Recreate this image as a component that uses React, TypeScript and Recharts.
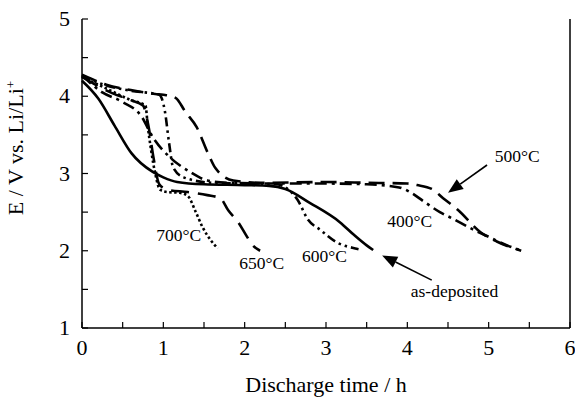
import React from 'react'
import {
  LineChart,
  Line,
  XAxis,
  YAxis,
  ReferenceLine,
  ReferenceDot,
} from 'recharts'

const xTicks = [0, 0.5, 1, 1.5, 2, 2.5, 3, 3.5, 4, 4.5, 5, 5.5, 6]
const yTicks = [1, 1.5, 2, 2.5, 3, 3.5, 4, 4.5, 5]

// discharge curves, t in h, e in V
const asDeposited = [
  { t: 0, e: 4.2 }, { t: 0.2, e: 3.97 }, { t: 0.4, e: 3.62 }, { t: 0.61, e: 3.26 },
  { t: 0.87, e: 3.02 }, { t: 1.0, e: 2.95 }, { t: 1.17, e: 2.89 }, { t: 1.5, e: 2.86 },
  { t: 2.0, e: 2.85 }, { t: 2.3, e: 2.84 }, { t: 2.5, e: 2.8 }, { t: 2.8, e: 2.62 },
  { t: 3.17, e: 2.37 }, { t: 3.35, e: 2.2 }, { t: 3.5, e: 2.07 }, { t: 3.58, e: 2.01 },
]
const c400 = [
  { t: 0, e: 4.27 }, { t: 0.25, e: 4.05 }, { t: 0.49, e: 3.93 }, { t: 0.73, e: 3.74 },
  { t: 0.87, e: 3.47 }, { t: 1.08, e: 3.21 }, { t: 1.33, e: 3.02 }, { t: 1.54, e: 2.91 },
  { t: 1.8, e: 2.88 }, { t: 2.5, e: 2.87 }, { t: 3.0, e: 2.87 }, { t: 3.5, e: 2.86 },
  { t: 3.9, e: 2.82 }, { t: 4.05, e: 2.75 }, { t: 4.2, e: 2.64 }, { t: 4.4, e: 2.5 },
  { t: 4.55, e: 2.42 }, { t: 4.8, e: 2.28 }, { t: 5.0, e: 2.18 }, { t: 5.2, e: 2.08 },
  { t: 5.41, e: 2.0 },
]
const c500 = [
  { t: 0, e: 4.28 }, { t: 0.3, e: 4.15 }, { t: 0.6, e: 4.08 }, { t: 0.9, e: 4.03 },
  { t: 1.0, e: 4.02 }, { t: 1.15, e: 3.98 }, { t: 1.27, e: 3.8 }, { t: 1.41, e: 3.6 },
  { t: 1.55, e: 3.26 }, { t: 1.64, e: 3.07 }, { t: 1.86, e: 2.91 }, { t: 2.2, e: 2.88 },
  { t: 3.0, e: 2.89 }, { t: 3.5, e: 2.88 }, { t: 4.0, e: 2.87 }, { t: 4.12, e: 2.85 },
  { t: 4.3, e: 2.8 }, { t: 4.44, e: 2.68 }, { t: 4.62, e: 2.53 }, { t: 4.9, e: 2.24 },
  { t: 5.1, e: 2.12 }, { t: 5.4, e: 2.0 },
]
const c600 = [
  { t: 0, e: 4.26 }, { t: 0.3, e: 4.14 }, { t: 0.6, e: 4.07 }, { t: 0.95, e: 4.02 },
  { t: 1.02, e: 3.8 }, { t: 1.07, e: 3.4 }, { t: 1.12, e: 3.08 }, { t: 1.25, e: 2.95 },
  { t: 1.6, e: 2.88 }, { t: 2.0, e: 2.87 }, { t: 2.4, e: 2.86 }, { t: 2.55, e: 2.78 },
  { t: 2.65, e: 2.66 }, { t: 2.78, e: 2.4 }, { t: 2.93, e: 2.27 }, { t: 3.13, e: 2.11 },
  { t: 3.36, e: 2.03 }, { t: 3.4, e: 2.02 },
]
const c650 = [
  { t: 0, e: 4.25 }, { t: 0.37, e: 4.04 }, { t: 0.6, e: 3.95 }, { t: 0.75, e: 3.88 },
  { t: 0.82, e: 3.6 }, { t: 0.88, e: 3.2 }, { t: 0.95, e: 2.86 }, { t: 1.05, e: 2.79 },
  { t: 1.3, e: 2.76 }, { t: 1.54, e: 2.72 }, { t: 1.7, e: 2.68 }, { t: 1.8, e: 2.52 },
  { t: 1.92, e: 2.37 }, { t: 2.03, e: 2.18 }, { t: 2.1, e: 2.07 }, { t: 2.19, e: 2.0 },
]
const c700 = [
  { t: 0, e: 4.25 }, { t: 0.3, e: 4.1 }, { t: 0.6, e: 3.95 }, { t: 0.78, e: 3.88 },
  { t: 0.81, e: 3.6 }, { t: 0.85, e: 3.3 }, { t: 0.9, e: 3.0 }, { t: 0.96, e: 2.79 },
  { t: 1.05, e: 2.76 }, { t: 1.2, e: 2.75 }, { t: 1.3, e: 2.71 }, { t: 1.4, e: 2.5 },
  { t: 1.48, e: 2.31 }, { t: 1.58, e: 2.14 }, { t: 1.67, e: 2.03 },
]

const labels = [
  { text: '500°C', t: 5.35, e: 3.23 },
  { text: '400°C', t: 4.03, e: 2.38 },
  { text: '700°C', t: 1.19, e: 2.2 },
  { text: '650°C', t: 2.21, e: 1.84 },
  { text: '600°C', t: 2.98, e: 1.93 },
  { text: 'as-deposited', t: 4.58, e: 1.48 },
]
const arrows = [
  { t1: 4.98, e1: 3.11, t2: 4.5, e2: 2.75 },
  { t1: 4.3, e1: 1.62, t2: 3.69, e2: 1.94 },
]

const FONT = "'Liberation Serif', 'Times New Roman', Times, serif"
const txt = { fontFamily: FONT }

const BottomTick = (props: any) => {
  const { x, y, payload } = props
  const v = payload.value
  return (
    <g>
      <line x1={x} y1={y} x2={x} y2={y - 6} stroke='#000' strokeWidth={1.2} />
      {Number.isInteger(v) && (
        <text x={x} y={y + 27} textAnchor='middle' fontSize={22} style={txt} fill='#000'>
          {v}
        </text>
      )}
    </g>
  )
}

const TopTick = (props: any) => {
  const { x, y } = props
  return <line x1={x} y1={y} x2={x} y2={y + 6} stroke='#000' strokeWidth={1.2} />
}

const LeftTick = (props: any) => {
  const { x, y, payload } = props
  const v = payload.value
  return (
    <g>
      <line x1={x} y1={y} x2={x + 6} y2={y} stroke='#000' strokeWidth={1.2} />
      {Number.isInteger(v) && (
        <text x={x - 12} y={y + 7} textAnchor='end' fontSize={22} style={txt} fill='#000'>
          {v}
        </text>
      )}
    </g>
  )
}

const RightTick = (props: any) => {
  const { x, y } = props
  return <line x1={x} y1={y} x2={x - 6} y2={y} stroke='#000' strokeWidth={1.2} />
}

const Arrow = (props: any) => {
  const { x1, y1, x2, y2 } = props
  const dx = x2 - x1
  const dy = y2 - y1
  const len = Math.hypot(dx, dy) || 1
  const ux = dx / len
  const uy = dy / len
  const L = 15
  const W = 6
  const bx = x2 - ux * L
  const by = y2 - uy * L
  const pts = `${x2},${y2} ${bx - uy * W},${by + ux * W} ${bx + uy * W},${by - ux * W}`
  return (
    <g>
      <line x1={x1} y1={y1} x2={bx} y2={by} stroke='#000' strokeWidth={1.6} />
      <polygon points={pts} fill='#000' />
    </g>
  )
}

const curveProps = {
  type: 'monotone' as const,
  dataKey: 'e',
  stroke: '#000',
  strokeWidth: 2.6,
  dot: false,
  isAnimationActive: false,
}

const App = () => {
  return (
    <div style={{ position: 'absolute', left: 0, top: 0, background: '#fff' }}>
      <LineChart
        width={575}
        height={398}
        margin={{ top: 19, right: 0, bottom: 0, left: 0 }}
      >
        <XAxis
          dataKey='t'
          type='number'
          domain={[0, 6]}
          ticks={xTicks}
          interval={0}
          height={70}
          tickSize={0}
          tickMargin={0}
          tick={<BottomTick />}
          axisLine={{ stroke: '#000', strokeWidth: 1.5 }}
          label={{
            content: () => (
              <text x={326} y={392} textAnchor='middle' fontSize={22} style={txt} fill='#000'>
                Discharge time / h
              </text>
            ),
          }}
        />
        <XAxis
          xAxisId='top'
          orientation='top'
          type='number'
          domain={[0, 6]}
          ticks={xTicks}
          interval={0}
          height={0}
          tickSize={0}
          tickMargin={0}
          tick={<TopTick />}
          axisLine={{ stroke: '#000', strokeWidth: 1.5 }}
        />
        <YAxis
          type='number'
          domain={[1, 5]}
          ticks={yTicks}
          interval={0}
          width={82}
          tickSize={0}
          tickMargin={0}
          tick={<LeftTick />}
          axisLine={{ stroke: '#000', strokeWidth: 1.5 }}
          label={{
            content: () => (
              <text
                x={23}
                y={148}
                textAnchor='middle'
                fontSize={22}
                style={txt}
                fill='#000'
                transform='rotate(-90, 23, 148)'
              >
                E / V vs. Li/Li
                <tspan dy={-8} fontSize={13}>+</tspan>
              </text>
            ),
          }}
        />
        <YAxis
          yAxisId='right'
          orientation='right'
          type='number'
          domain={[1, 5]}
          ticks={yTicks}
          interval={0}
          width={5}
          tickSize={0}
          tickMargin={0}
          tick={<RightTick />}
          axisLine={{ stroke: '#000', strokeWidth: 1.5 }}
        />

        <Line {...curveProps} data={c700} strokeDasharray='2.5 2.5' />
        <Line {...curveProps} data={c650} strokeDasharray='18 9' />
        <Line {...curveProps} data={c600} strokeDasharray='9 4 2.5 4 2.5 4' />
        <Line {...curveProps} data={c500} strokeDasharray='16 8' />
        <Line {...curveProps} data={c400} strokeDasharray='12 5 3 5' />
        <Line {...curveProps} data={asDeposited} />

        {arrows.map((a, i) => (
          <ReferenceLine
            key={`arrow-${i}`}
            segment={[{ x: a.t1, y: a.e1 }, { x: a.t2, y: a.e2 }]}
            shape={Arrow}
          />
        ))}
        {labels.map((l) => (
          <ReferenceDot
            key={l.text}
            x={l.t}
            y={l.e}
            r={0}
            shape={(p: any) => (
              <text
                x={p.cx}
                y={p.cy}
                textAnchor='middle'
                dominantBaseline='central'
                fontSize={17.5}
                style={txt}
                fill='#000'
              >
                {l.text}
              </text>
            )}
          />
        ))}
      </LineChart>
    </div>
  )
}

export default App
